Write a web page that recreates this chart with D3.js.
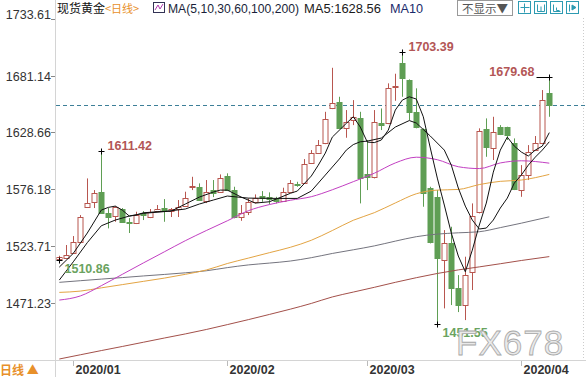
<!DOCTYPE html>
<html><head><meta charset="utf-8">
<script src="https://cdn.jsdelivr.net/npm/d3@7"></script>
<style>body{margin:0;background:#fff;}svg{display:block;}</style>
</head><body><svg id="c" width="586" height="377"></svg>
<script>
// ---- data (candle index 1..71, 2019/12/30 .. 2020/04/07) ----
const open  = [1511.8,1512.8,1517.5,1527.6,1559.4,1564.3,1573.9,1553.9,1551.4,1557.9,1546.1,1544.6,1554.4,1550.2,1556.3,1558.5,1556.3,1557.9,1560.6,1577.9,1578.5,1565.3,1575.4,1573.9,1588.4,1575.4,1550.7,1554.8,1564.6,1569.9,1569.2,1567.1,1565.3,1573.9,1581.0,1582.2,1600.1,1609.9,1618.6,1651.0,1657.1,1633.0,1640.1,1641.7,1590.2,1587.7,1637.7,1637.1,1670.7,1692.6,1677.1,1647.8,1631.5,1577.0,1569.2,1510.7,1526.1,1484.5,1469.1,1499.9,1555.4,1631.8,1614.0,1634.0,1634.0,1618.6,1575.4,1589.3,1612.4,1619.2,1664.8];
const high  = [1514.7,1524.6,1532.9,1552.3,1586.2,1575.4,1611.42,1558.8,1560.6,1558.8,1549.5,1555.4,1556.0,1557.9,1561.6,1567.1,1558.8,1566.2,1573.9,1587.7,1581.6,1584.7,1584.7,1589.9,1590.9,1578.5,1561.6,1567.7,1571.4,1574.5,1573.3,1569.2,1577.6,1584.7,1583.1,1604.1,1612.4,1621.7,1647.8,1688.5,1661.7,1649.4,1658.6,1647.8,1621.7,1649.4,1650.9,1674.1,1683.0,1703.39,1677.8,1669.5,1632.5,1578.5,1575.4,1538.4,1541.5,1496.8,1513.8,1563.1,1632.5,1641.7,1643.2,1635.5,1634.0,1623.2,1598.5,1617.0,1625.4,1667.9,1679.68];
const low   = [1510.86,1512.3,1516.9,1527.1,1559.0,1558.8,1553.8,1540.0,1546.1,1545.0,1535.7,1544.0,1547.7,1549.5,1555.4,1546.1,1550.5,1550.5,1560.0,1575.4,1565.5,1563.4,1568.9,1573.3,1574.5,1549.3,1547.0,1552.3,1563.1,1564.6,1562.2,1563.1,1564.6,1573.3,1578.5,1581.6,1599.5,1609.4,1617.9,1650.3,1631.8,1623.8,1635.5,1563.1,1575.4,1586.2,1630.9,1636.4,1658.0,1661.7,1640.1,1632.5,1560.0,1526.1,1451.55,1466.0,1469.1,1462.6,1455.2,1483.0,1553.9,1606.2,1603.2,1626.3,1621.7,1575.4,1569.2,1584.7,1611.8,1618.6,1643.2];
const close = [1513.5,1515.3,1527.1,1550.2,1563.1,1572.4,1554.4,1550.7,1560.0,1546.1,1544.6,1552.3,1552.0,1555.4,1558.1,1556.0,1557.6,1560.0,1567.7,1579.1,1566.2,1573.9,1572.7,1586.8,1575.4,1550.2,1553.9,1564.6,1567.7,1568.3,1567.1,1565.3,1573.3,1581.6,1580.0,1599.2,1609.9,1617.0,1640.8,1656.1,1632.5,1638.6,1643.2,1586.2,1587.7,1638.6,1635.5,1669.5,1671.6,1678.7,1647.8,1633.4,1572.9,1527.6,1512.3,1526.1,1484.5,1469.1,1496.8,1551.4,1630.0,1614.9,1629.3,1627.2,1626.3,1576.1,1589.3,1610.8,1618.6,1658.6,1654.0];

const ma5Idx = [1,3,5,7,8,9,10,11,12,13,15,17,19,21,23,24,25,27,29,31,32,34,35,37,38,39,40,42,43,44,45,46,47,48,49,50,51,52,53,54,55,56,57,58,59,60,61,62,63,64,65,66,67,68,69,70,71];
const ma5    = [1504.2,1516.9,1535.7,1556.9,1559.4,1560.6,1556.9,1551.4,1552.3,1554.4,1555.4,1556.0,1562.5,1568.9,1573.6,1575.4,1575.4,1568.9,1563.4,1564.6,1567.1,1572.4,1574.5,1588.4,1598.5,1609.6,1624.4,1637.1,1643.2,1633.7,1619.8,1619.3,1621.7,1630.9,1649.4,1658.6,1661.7,1659.6,1643.2,1614.3,1586.5,1561.6,1535.7,1514.4,1499.9,1519.9,1543.1,1563.4,1592.0,1612.4,1624.4,1616.1,1610.6,1606.9,1612.4,1616.1,1628.56];
const ma10Idx = [1,3,5,7,9,11,13,16,19,21,23,25,28,32,35,37,39,41,42,43,44,45,47,49,51,52,54,56,57,58,59,60,61,62,63,64,65,66,67,68,69,70,71];
const ma10    = [1492.2,1509.1,1526.8,1542.4,1547.7,1551.4,1553.9,1555.5,1557.9,1562.5,1566.2,1569.9,1568.0,1567.7,1567.7,1574.5,1589.3,1604.1,1612.4,1617.5,1620.1,1620.7,1623.5,1633.7,1639.7,1637.4,1625.4,1612.4,1598.5,1577.3,1560.6,1547.7,1539.4,1540.3,1547.7,1558.8,1568.0,1581.9,1589.3,1598.5,1605.9,1612.4,1620.1];

const maIdx = [1,4,7,10,13,16,19,22,25,28,31,34,37,40,43,46,49,52,55,58,61,64,67,71];
const ma30  = [1473.7,1477.5,1487.0,1497.5,1508.0,1518.3,1528.6,1538.0,1547.0,1556.3,1562.0,1566.0,1569.3,1575.7,1583.2,1591.0,1600.5,1605.8,1603.5,1597.0,1595.3,1600.5,1602.5,1600.3];
const ma60  = [1480.8,1482.0,1485.0,1488.0,1491.0,1494.0,1497.5,1501.5,1507.5,1512.5,1517.5,1522.5,1529.0,1538.0,1547.5,1554.5,1563.5,1572.0,1575.4,1576.0,1580.5,1583.5,1584.7,1589.9];
const ma100 = [1490.1,1491.6,1493.1,1494.5,1496.0,1497.4,1498.9,1500.8,1503.7,1506.2,1507.9,1509.8,1512.9,1516.8,1520.2,1523.8,1528.2,1532.3,1534.7,1535.9,1536.9,1540.7,1544.8,1550.7];
const ma200 = [1419.2,1423.1,1427.0,1430.8,1434.7,1438.6,1442.4,1446.5,1451.0,1455.6,1460.4,1465.3,1470.6,1476.6,1481.1,1485.5,1490.1,1494.4,1498.3,1501.6,1504.4,1507.3,1510.3,1513.9];

const yTicks = [1471.23,1523.71,1576.18,1628.66,1681.14,1733.61];
const yBottom = 1418.75;
const monthIdx = [3,25,45,67];
const monthLabels = ["2020/01","2020/02","2020/03","2020/04"];
const highMarkIdx = [7,50,71];
const lowMarkIdx = [1,55];

// ---- scales ----
const svg = d3.select("#c");
const x = d3.scaleLinear().domain([1,71]).range([59.3,549.3]);
const y = d3.scaleLinear().domain([yBottom, 1733.61]).range([359.5, 19]);

const UP = "#b8564f", DOWN = "#5f9e54";
const F = "'Liberation Sans', Arial, sans-serif";

// axes lines
svg.append("line").attr("x1",55.5).attr("x2",55.5).attr("y1",0).attr("y2",377).attr("stroke","#d4d4d4");
svg.append("line").attr("x1",583.5).attr("x2",583.5).attr("y1",18).attr("y2",360).attr("stroke","#ccc").attr("stroke-dasharray","1,2");
svg.append("line").attr("x1",0).attr("x2",586).attr("y1",360.5).attr("y2",360.5).attr("stroke","#d4d4d4");

// y ticks
yTicks.forEach((t,k)=>{
  const yy = Math.round(y(t))+0.5;
  svg.append("line").attr("x1",51).attr("x2",55).attr("y1",yy).attr("y2",yy).attr("stroke","#888");
  svg.append("text").attr("x",51).attr("y", (k===yTicks.length-1? yy-5 : yy)+4.5)
    .attr("text-anchor","end").attr("font-family",F).attr("font-size",12.5).attr("fill","#333").text(t.toFixed(2));
});

// month ticks
monthIdx.forEach((mi,k)=>{
  const xx = Math.round(x(mi))+0.5;
  svg.append("line").attr("x1",xx).attr("x2",xx).attr("y1",361).attr("y2",366).attr("stroke","#bbb");
  svg.append("text").attr("x",xx+2).attr("y",374).attr("font-family",F).attr("font-weight","bold")
    .attr("font-size",12.5).attr("fill","#333").text(monthLabels[k]);
});

// current price dashed line
const lastY = Math.round(y(close[close.length-1]))+0.5;
svg.append("line").attr("x1",56).attr("x2",586).attr("y1",lastY).attr("y2",lastY)
  .attr("stroke","#3d7f98").attr("stroke-dasharray","4,3");

// candles
const idx = d3.range(1,72);
const g = svg.append("g");
idx.forEach(i=>{
  const o=open[i-1], c=close[i-1], h=high[i-1], l=low[i-1];
  const up = c>=o;
  const col = up?UP:DOWN;
  const cx = Math.round(x(i))+0.5;
  g.append("line").attr("x1",cx).attr("x2",cx).attr("y1",y(h)).attr("y2",y(l)).attr("stroke",col);
  const top = Math.round(y(Math.max(o,c))), bot = Math.round(y(Math.min(o,c)));
  g.append("rect").attr("x",cx-2.5).attr("y",top+0.5).attr("width",5).attr("height",Math.max(1,bot-top))
    .attr("fill",up?"#fff":DOWN).attr("stroke",col);
});

// MA lines
const lineLin = d3.line().x(d=>x(d[0])).y(d=>y(d[1]));
const lineSm = d3.line().x(d=>x(d[0])).y(d=>y(d[1])).curve(d3.curveMonotoneX);
function draw(ix, vals, col, gen){
  svg.append("path").datum(ix.map((v,k)=>[v,vals[k]])).attr("d",gen)
    .attr("fill","none").attr("stroke",col).attr("stroke-width",1);
}
draw(maIdx, ma200, "#a3504a", lineSm);
draw(maIdx, ma100, "#74747e", lineSm);
draw(maIdx, ma60, "#e3a443", lineSm);
draw(maIdx, ma30, "#c23fc2", lineSm);
draw(ma10Idx, ma10, "#111", lineLin);
draw(ma5Idx, ma5, "#111", lineLin);

// high / low markers
highMarkIdx.forEach(i=>{
  const cx = Math.round(x(i))+0.5, yy = Math.round(y(high[i-1]))+0.5;
  const last = i===71;
  svg.append("line").attr("x1", last? cx-13 : cx-3).attr("x2",cx+3).attr("y1",yy).attr("y2",yy).attr("stroke","#000");
  svg.append("line").attr("x1",cx).attr("x2",cx).attr("y1",yy-3).attr("y2",yy+3).attr("stroke","#000");
  svg.append("text").attr("x", last? cx-15 : cx+6).attr("y", yy-2).attr("text-anchor", last?"end":"start")
    .attr("font-family",F).attr("font-weight","bold").attr("font-size",12.5).attr("fill","#b35656").text(high[i-1].toFixed(2));
});
lowMarkIdx.forEach(i=>{
  const cx = Math.round(x(i))+0.5, yy = Math.round(y(low[i-1]))+0.5;
  svg.append("line").attr("x1",cx-3).attr("x2",cx+3).attr("y1",yy).attr("y2",yy).attr("stroke","#000");
  svg.append("line").attr("x1",cx).attr("x2",cx).attr("y1",yy-3).attr("y2",yy+3).attr("stroke","#000");
  svg.append("text").attr("x", cx+5).attr("y", yy+12)
    .attr("font-family",F).attr("font-weight","bold").attr("font-size",12.5).attr("fill","#6aa360").text(low[i-1].toFixed(2));
});

// watermark
svg.append("text").attr("x",456).attr("y",355).attr("font-family",F).attr("font-size",35)
  .attr("letter-spacing",1).attr("fill","#e9e9e9").attr("stroke","#a8a8a8").attr("stroke-width",0.8).text("FX678");

// header
const hd = svg.append("g").attr("font-family",F);
hd.append("text").attr("x",57).attr("y",13).attr("font-family","'Noto Sans CJK SC'").attr("font-size",12).attr("fill","#111").text("现货黄金");
hd.append("text").attr("x",105).attr("y",13).attr("font-family","'Noto Sans CJK SC'").attr("font-size",11).attr("fill","#e8902a").text("<日线>");
hd.append("rect").attr("x",153.5).attr("y",2.5).attr("width",11).attr("height",10).attr("fill","#fff").attr("stroke","#335");
hd.append("path").attr("d","M155,10 L158,5 L160,9 L163,4").attr("fill","none").attr("stroke","#b03cb0");
hd.append("text").attr("x",168).attr("y",13).attr("font-size",12.5).attr("textLength",131).attr("lengthAdjust","spacingAndGlyphs").attr("fill","#1a1f3a").text("MA(5,10,30,60,100,200)");
hd.append("text").attr("x",304).attr("y",13).attr("font-size",12.5).attr("textLength",77).attr("lengthAdjust","spacingAndGlyphs").attr("fill","#1a1a1a").text("MA5:1628.56");
hd.append("text").attr("x",390).attr("y",13).attr("font-size",12.5).attr("textLength",33).attr("lengthAdjust","spacingAndGlyphs").attr("fill","#1a2a6a").text("MA10");
hd.append("rect").attr("x",457.5).attr("y",0.5).attr("width",55).attr("height",15).attr("fill","#fff").attr("stroke","#999");
hd.append("text").attr("x",462).attr("y",12.5).attr("font-family","'Noto Sans CJK SC'").attr("font-size",11.5).attr("fill","#555").text("不显示▼");
[518,534,550,566].forEach((bx,k)=>{
  hd.append("rect").attr("x",bx+0.5).attr("y",1.5).attr("width",12).attr("height",12).attr("fill","#fff").attr("stroke","#2e9bb2");
});
hd.append("path").attr("d","M524.5,3.5V12.5M520.5,7.5H529.5").attr("stroke","#2e9bb2");
hd.append("path").attr("d","M537.5,4.5V11.5H544.5V4.5M541,6.5V11.5").attr("stroke","#2e9bb2").attr("fill","none");
hd.append("path").attr("d","M553.5,4.5V11.5H560.5M556.5,7.5V10.5H559.5").attr("stroke","#2e9bb2").attr("fill","none");
hd.append("path").attr("d","M569.5,4.5V11.5M572,5L576,7.5L572,10Z").attr("stroke","#2e9bb2").attr("fill","#2e9bb2");

// bottom-left
svg.append("text").attr("x",0).attr("y",375).attr("font-family","'Noto Sans CJK SC'").attr("font-weight","bold")
  .attr("font-size",12).attr("fill","#e8902a").text("日线 ▲");
</script></body></html>
